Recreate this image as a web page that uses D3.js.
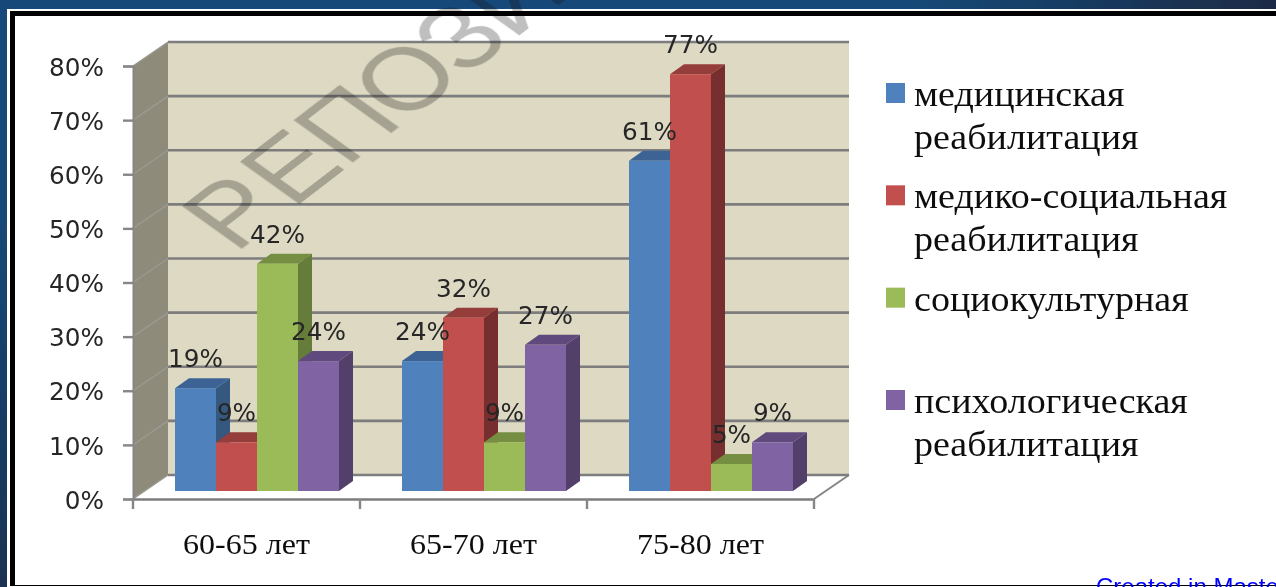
<!DOCTYPE html>
<html>
<head>
<meta charset="utf-8">
<script src="https://cdn.jsdelivr.net/npm/d3@7"></script>
<style>
  html, body { margin: 0; padding: 0; background: #fff; overflow: hidden; }
  svg { display: block; }
</style>
</head>
<body>
<svg id="chart"></svg>
<script>
// данные
const ageGroups = ["60-65 лет", "65-70 лет", "75-80 лет"];
const seriesNames = ["медицинская", "медико-социальная", "социокультурная", "психологическая"];
const medical = [19, 24, 61];
const medSocial = [9, 32, 77];
const sociocultural = [42, 9, 5];
const psychological = [24, 27, 9];
const yTicks = [0, 10, 20, 30, 40, 50, 60, 70, 80];
const legendLines = [
  ["медицинская", "реабилитация"],
  ["медико-социальная", "реабилитация"],
  ["социокультурная"],
  ["психологическая", "реабилитация"]
];

const width = 1276, height = 587;
const allValues = [medical, medSocial, sociocultural, psychological];
// цвета: перед, верх, бок
const front = ["#4f81bd", "#c0504d", "#9bbb59", "#8064a2"];
const topFace = ["#3c6494", "#943c3a", "#748e42", "#604a7b"];
const sideFace = ["#34587f", "#772f2d", "#667c3b", "#533f6b"];

const depth = {x: 35, y: -24};     // глубина стены
const barDepth = {x: 14, y: -10};  // глубина столбика
const barShift = -8;               // столбики стоят чуть глубже переднего края

const svgRoot = d3.select("#chart").attr("width", width).attr("height", height)
  .attr("viewBox", [0, 0, width, height]);

const defs = svgRoot.append("defs");
const grad = defs.append("radialGradient").attr("id", "bg")
  .attr("gradientUnits", "userSpaceOnUse")
  .attr("cx", 430).attr("cy", -40).attr("r", 860);
grad.append("stop").attr("offset", "0.55").attr("stop-color", "#174a79");
grad.append("stop").attr("offset", "1").attr("stop-color", "#1b2a44");
// исходная картинка растянута и немного размыта
defs.append("filter").attr("id", "soft")
  .attr("filterUnits", "userSpaceOnUse")
  .attr("x", -10).attr("y", -10).attr("width", width + 20).attr("height", height + 20)
  .append("feGaussianBlur").attr("stdDeviation", 0.55);

const svg = svgRoot.append("g").attr("filter", "url(#soft)");

// фон и рамка
svg.append("rect").attr("x", -10).attr("y", -10).attr("width", width + 20).attr("height", height + 20).attr("fill", "url(#bg)");
svg.append("rect").attr("x", 7).attr("y", 9).attr("width", width).attr("height", height).attr("fill", "#fff");
svg.append("rect").attr("x", 10).attr("y", 11).attr("width", width).attr("height", 575).attr("fill", "#000");
svg.append("rect").attr("x", 15).attr("y", 16).attr("width", width).attr("height", 569).attr("fill", "#fff");

const x0 = d3.scaleBand(ageGroups, [133, 814]);
const x1 = d3.scaleBand(d3.range(seriesNames.length), [42, 206]);
const y = d3.scaleLinear([0, 80], [499, 66]);

const chart = svg.append("g");
const wallLeft = x0.range()[0], wallRight = x0.range()[1];

// задняя стена
chart.append("rect")
  .attr("x", wallLeft + depth.x).attr("y", y(80) + depth.y)
  .attr("width", wallRight - wallLeft).attr("height", y(0) - y(80))
  .attr("fill", "#ddd9c3");
// левая стена
chart.append("path")
  .attr("d", d3.line()([
    [wallLeft, y(0)], [wallLeft, y(80)],
    [wallLeft + depth.x, y(80) + depth.y], [wallLeft + depth.x, y(0) + depth.y]
  ]) + "Z")
  .attr("fill", "#8f8b7a");
// пол
chart.append("path")
  .attr("d", d3.line()([
    [wallRight, y(0)], [wallRight + depth.x, y(0) + depth.y]
  ]))
  .attr("stroke", "#868686").attr("stroke-width", 2).attr("fill", "none");

// сетка
const grid = chart.append("g").selectAll("g").data(yTicks).join("g");
grid.append("line")
  .attr("x1", wallLeft + depth.x).attr("x2", wallRight + depth.x)
  .attr("y1", d => y(d) + depth.y).attr("y2", d => y(d) + depth.y)
  .attr("stroke", "#7d7d7d").attr("stroke-width", 2.6);
grid.append("line")
  .attr("x1", wallLeft).attr("x2", wallLeft + depth.x)
  .attr("y1", d => y(d)).attr("y2", d => y(d) + depth.y)
  .attr("stroke", "#9a9a92").attr("stroke-width", 1.5);

// столбики
const bars = [];
seriesNames.forEach((s, i) => {
  ageGroups.forEach((g, j) => bars.push({g, i, value: allValues[i][j]}));
});
const groups = chart.append("g").selectAll("g").data(ageGroups).join("g")
  .attr("transform", d => `translate(${x0(d)},${barShift})`);
const bar = groups.selectAll("g").data(g => bars.filter(b => b.g === g)).join("g");
const bw = x1.bandwidth();
bar.append("path")
  .attr("fill", d => sideFace[d.i])
  .attr("d", d => d3.line()([
    [x1(d.i) + bw, y(0)], [x1(d.i) + bw, y(d.value)],
    [x1(d.i) + bw + barDepth.x, y(d.value) + barDepth.y], [x1(d.i) + bw + barDepth.x, y(0) + barDepth.y]
  ]) + "Z");
bar.append("path")
  .attr("fill", d => topFace[d.i])
  .attr("d", d => d3.line()([
    [x1(d.i), y(d.value)], [x1(d.i) + bw, y(d.value)],
    [x1(d.i) + bw + barDepth.x, y(d.value) + barDepth.y], [x1(d.i) + barDepth.x, y(d.value) + barDepth.y]
  ]) + "Z");
bar.append("rect")
  .attr("x", d => x1(d.i)).attr("y", d => y(d.value))
  .attr("width", bw).attr("height", d => y(0) - y(d.value))
  .attr("fill", d => front[d.i]);

// оси
const yAxis = d3.axisLeft(y).tickValues(yTicks).tickSize(10).tickPadding(19).tickFormat(d => d + "%");
const gy = svg.append("g").attr("transform", `translate(${wallLeft},0)`).call(yAxis);
gy.select(".domain").attr("stroke", "#868686").attr("stroke-width", 2);
gy.selectAll(".tick line").attr("stroke", "#868686").attr("stroke-width", 2.4);
gy.selectAll("text")
  .attr("x", 0).attr("transform", "translate(-29,0) scale(0.97,1)")
  .attr("font-family", "'DejaVu Sans'").attr("font-size", 25.5).attr("fill", "#262626").attr("dy", "0.36em");

const xAxis = d3.axisBottom(x0).tickSize(0).tickPadding(34);
const gx = svg.append("g").attr("transform", `translate(0,${y(0)})`).call(xAxis);
gx.select(".domain").attr("stroke", "#7d7d7d").attr("stroke-width", 2.6);
gx.selectAll("text").attr("transform", "scale(1.067,1)")
  .attr("font-family", "'Liberation Serif'").attr("font-size", 30).attr("fill", "#111");
gx.selectAll(".edge").data([...ageGroups.map(d => x0(d)), wallRight]).join("line")
  .attr("class", "edge").attr("x1", d => d).attr("x2", d => d).attr("y1", 0).attr("y2", 10)
  .attr("stroke", "#868686").attr("stroke-width", 2.4);

// подписи значений
svg.append("g").selectAll("text").data(bars).join("text")
  .attr("transform", d => `translate(${x0(d.g) + x1(d.i) + bw / 2},${y(d.value) + barShift - 21}) scale(0.97,1)`)
  .attr("text-anchor", "middle")
  .attr("font-family", "'DejaVu Sans'").attr("font-size", 25.5).attr("fill", "#262626")
  .text(d => d.value + "%");

// легенда
const legendY = d3.scalePoint(d3.range(seriesNames.length), [83, 390]);
const legend = svg.append("g").selectAll("g").data(seriesNames).join("g")
  .attr("transform", (d, i) => `translate(886,${legendY(i)})`);
legend.append("rect").attr("width", 19).attr("height", 20).attr("fill", (d, i) => front[i]);
legend.each(function(d, i) {
  d3.select(this).selectAll("text").data(legendLines[i]).join("text")
    .attr("transform", (t, k) => `translate(28,${23 + k * 42.5}) scale(1.057,1)`)
    .attr("font-family", "'Liberation Serif'").attr("font-size", 36).attr("fill", "#111")
    .text(t => t);
});

// водяной знак
svg.append("text")
  .attr("transform", "translate(235,254) scale(1.35,1) rotate(-46)")
  .attr("font-family", "'Liberation Sans'").attr("font-size", 88)
  .attr("fill", "#000").attr("fill-opacity", 0.25)
  .attr("dx", "0 3 -1 -3 -3 -2 0")
  .text("РЕПОЗИТОРИЙ");

svg.append("text")
  .attr("x", 1096).attr("y", 595)
  .attr("font-family", "'Liberation Sans'").attr("font-size", 24).attr("fill", "#0000ff")
  .text("Created in Master PDF Editor");
</script>
</body>
</html>
